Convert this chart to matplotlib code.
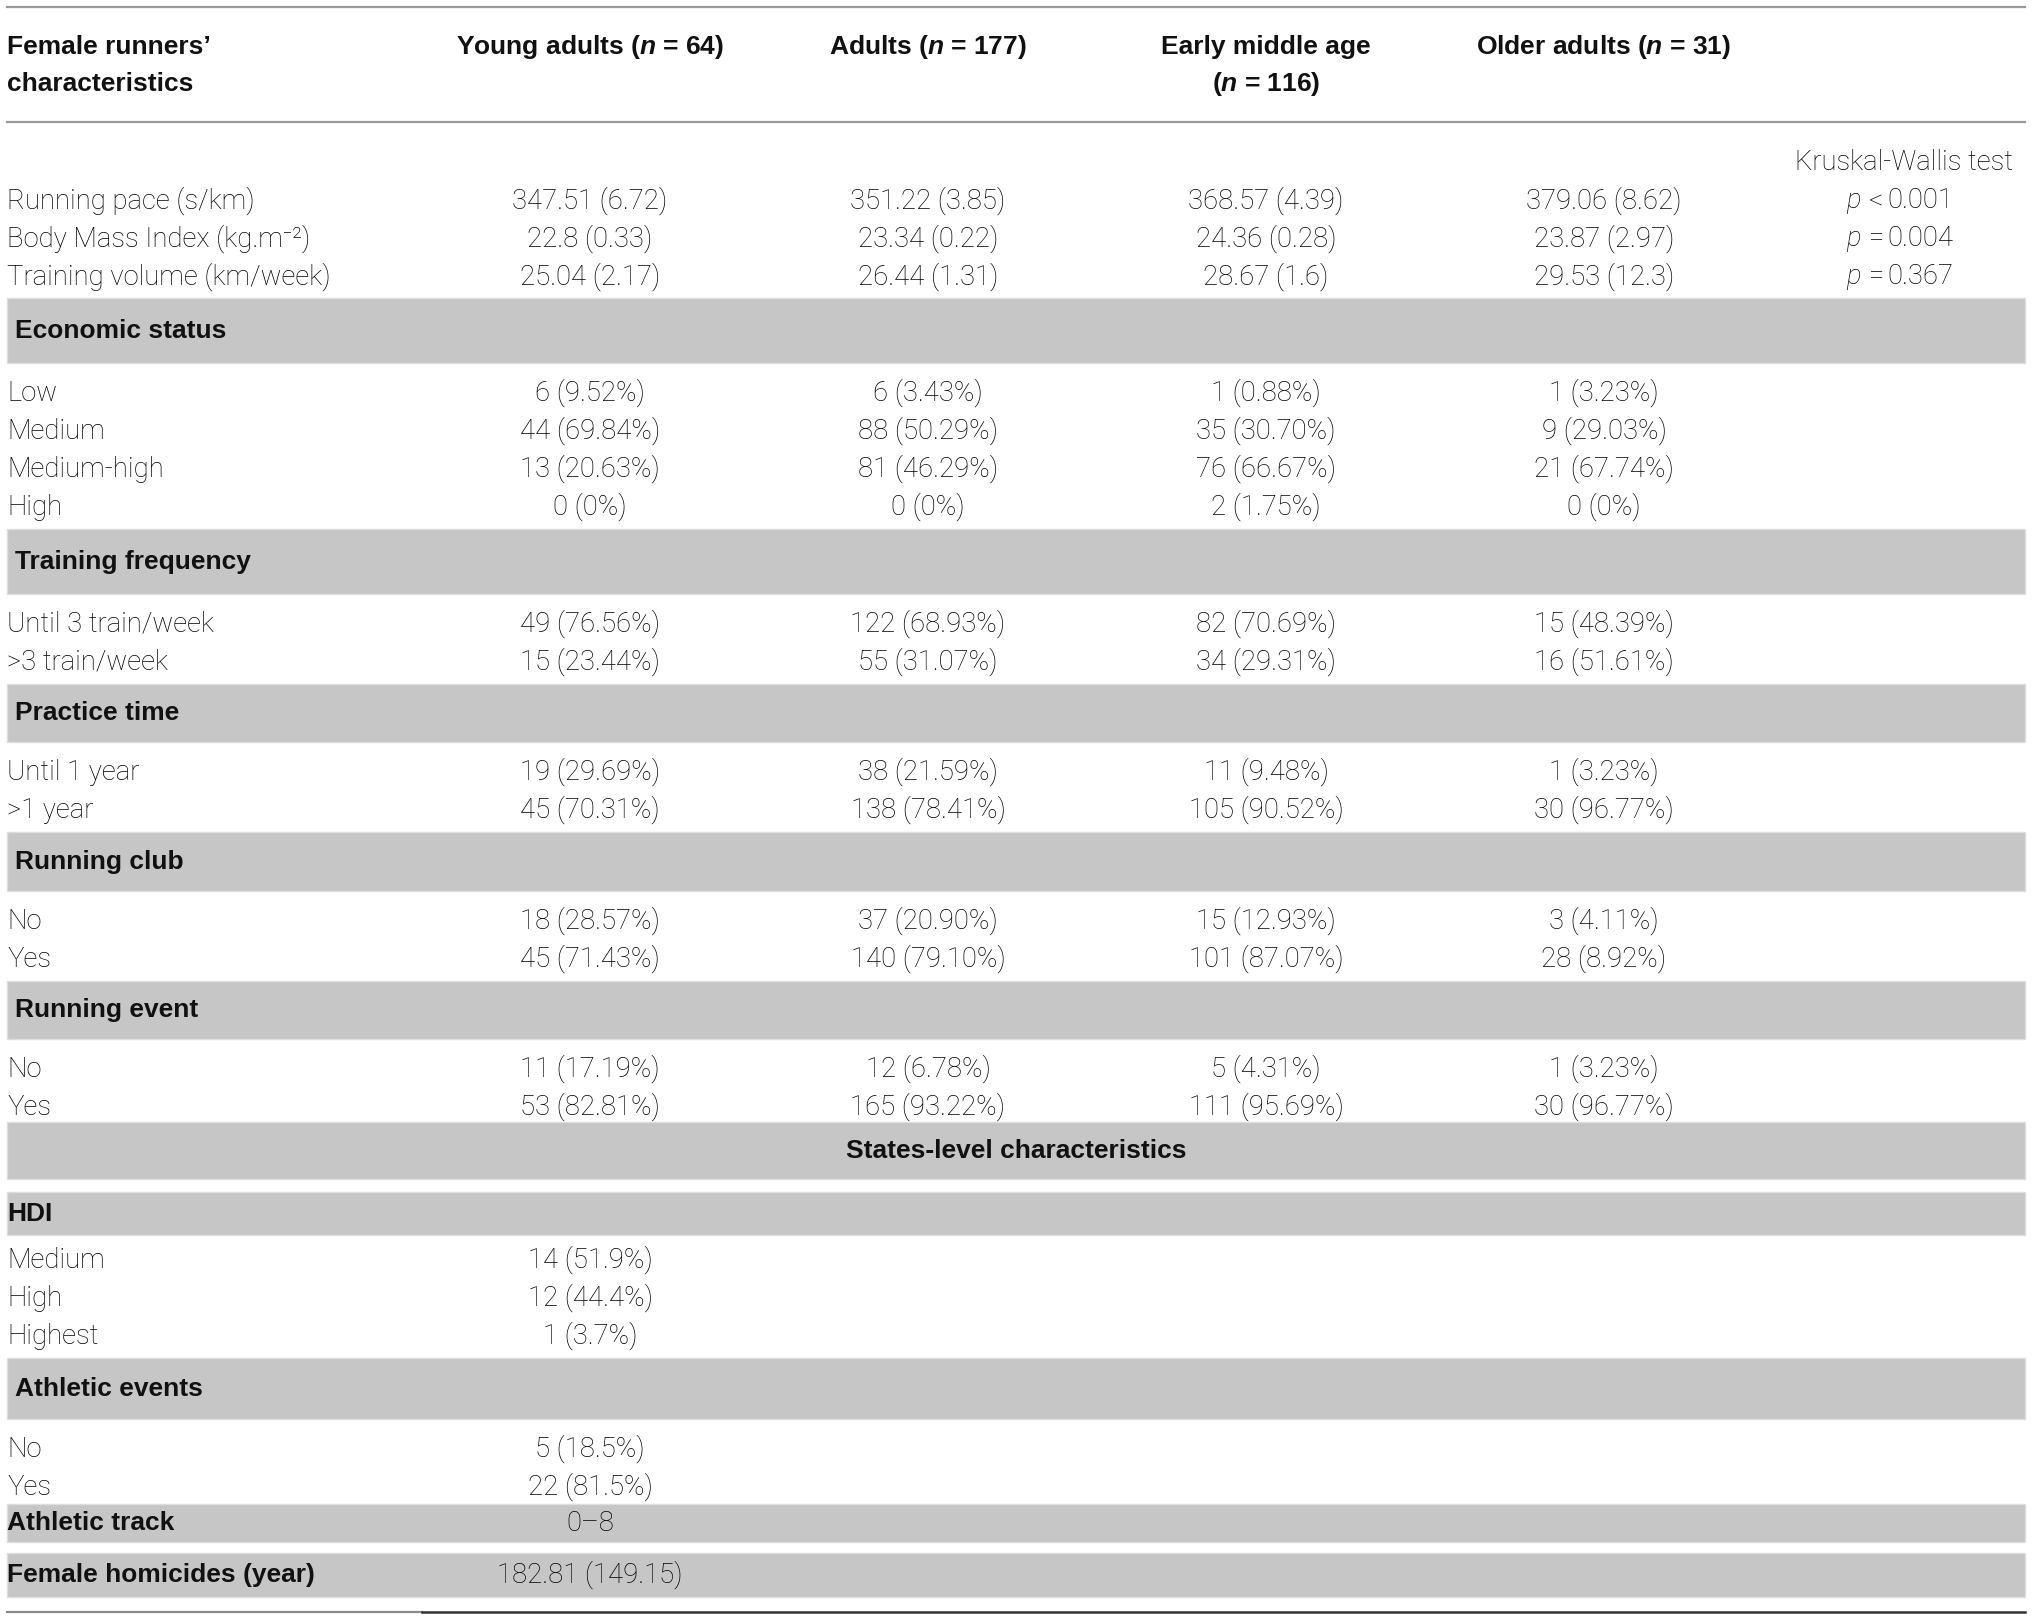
import matplotlib
matplotlib.use("Agg")
import matplotlib.pyplot as plt

plt.rcParams['font.family'] = ['Roboto', 'DejaVu Sans']
plt.rcParams['mathtext.fontset'] = 'custom'
plt.rcParams['mathtext.it'] = 'Liberation Sans:bold:italic'
plt.rcParams['mathtext.rm'] = 'Liberation Sans:bold'

# ---- data ----
group_names = ["Young adults", "Adults", "Early middle age", "Older adults"]
group_n = [64, 177, 116, 31]

cont_labels = ["Running pace (s/km)", "Body Mass Index (kg.m\u207b\u00b2)", "Training volume (km/week)"]
cont_young = ["347.51 (6.72)", "22.8 (0.33)", "25.04 (2.17)"]
cont_adults = ["351.22 (3.85)", "23.34 (0.22)", "26.44 (1.31)"]
cont_early = ["368.57 (4.39)", "24.36 (0.28)", "28.67 (1.6)"]
cont_older = ["379.06 (8.62)", "23.87 (2.97)", "29.53 (12.3)"]
kw_ops = ["<", "=", "="]
kw_vals = ["0.001", "0.004", "0.367"]

econ_labels = ["Low", "Medium", "Medium-high", "High"]
econ_young = ["6 (9.52%)", "44 (69.84%)", "13 (20.63%)", "0 (0%)"]
econ_adults = ["6 (3.43%)", "88 (50.29%)", "81 (46.29%)", "0 (0%)"]
econ_early = ["1 (0.88%)", "35 (30.70%)", "76 (66.67%)", "2 (1.75%)"]
econ_older = ["1 (3.23%)", "9 (29.03%)", "21 (67.74%)", "0 (0%)"]

freq_labels = ["Until 3 train/week", ">3 train/week"]
freq_young = ["49 (76.56%)", "15 (23.44%)"]
freq_adults = ["122 (68.93%)", "55 (31.07%)"]
freq_early = ["82 (70.69%)", "34 (29.31%)"]
freq_older = ["15 (48.39%)", "16 (51.61%)"]

time_labels = ["Until 1 year", ">1 year"]
time_young = ["19 (29.69%)", "45 (70.31%)"]
time_adults = ["38 (21.59%)", "138 (78.41%)"]
time_early = ["11 (9.48%)", "105 (90.52%)"]
time_older = ["1 (3.23%)", "30 (96.77%)"]

club_labels = ["No", "Yes"]
club_young = ["18 (28.57%)", "45 (71.43%)"]
club_adults = ["37 (20.90%)", "140 (79.10%)"]
club_early = ["15 (12.93%)", "101 (87.07%)"]
club_older = ["3 (4.11%)", "28 (8.92%)"]

event_labels = ["No", "Yes"]
event_young = ["11 (17.19%)", "53 (82.81%)"]
event_adults = ["12 (6.78%)", "165 (93.22%)"]
event_early = ["5 (4.31%)", "111 (95.69%)"]
event_older = ["1 (3.23%)", "30 (96.77%)"]

hdi_labels = ["Medium", "High", "Highest"]
hdi_values = ["14 (51.9%)", "12 (44.4%)", "1 (3.7%)"]
athletic_labels = ["No", "Yes"]
athletic_values = ["5 (18.5%)", "22 (81.5%)"]
track_value = "0\u20138"
homicide_value = "182.81 (149.15)"

runner_sections = [
    ("Economic status", econ_labels, [econ_young, econ_adults, econ_early, econ_older], 65),
    ("Training frequency", freq_labels, [freq_young, freq_adults, freq_early, freq_older], 65),
    ("Practice time", time_labels, [time_young, time_adults, time_early, time_older], 58),
    ("Running club", club_labels, [club_young, club_adults, club_early, club_older], 59),
    ("Running event", event_labels, [event_young, event_adults, event_early, event_older], 58),
]

# ---- layout ----
W, H = 2032, 1619
FS = 19.8
BAND = '#c5c6c5'
LX = 7
col_x = [590 + 338 * i for i in range(4)]
kw_x = 1904
pitch = 38

fig = plt.figure(figsize=(W / 100, H / 100), dpi=100)
ax = fig.add_axes([0, 0, 1, 1])
ax.set_xlim(0, W)
ax.set_ylim(H, 0)
ax.axis('off')

body = dict(fontsize=FS, weight='light', color='#000000', va='center')
bold = dict(fontsize=19, family=['Liberation Sans', 'DejaVu Sans'], weight='bold', color='#111111', va='center')
x0, x1 = 7 / W, 2025 / W


def band(top, bottom):
    ax.axhspan(top, bottom, xmin=x0, xmax=x1, facecolor=BAND, edgecolor='#dedede', lw=1)


# header
ax.plot([7, 2025], [7, 7], color='#9a9a9a', lw=1.6)
ax.plot([7, 2025], [122, 122], color='#9a9a9a', lw=1.6)
ax.text(LX, 47, "Female runners\u2019", ha='left', **bold)
ax.text(LX, 84, "characteristics", ha='left', **bold)
for i, (name, n) in enumerate(zip(group_names, group_n)):
    if name == "Early middle age":
        ax.text(col_x[i], 47, name, ha='center', **bold)
        ax.text(col_x[i], 84, "($n$ = %d)" % n, ha='center', **bold)
    else:
        ax.text(col_x[i], 47, "%s ($n$ = %d)" % (name, n), ha='center', **bold)

# continuous variables
ax.text(kw_x, 163, "Kruskal-Wallis test", ha='center', **body)
cont_cols = [cont_young, cont_adults, cont_early, cont_older]
for r, lab in enumerate(cont_labels):
    y = 201 + pitch * r
    ax.text(LX, y, lab, ha='left', **body)
    for c in range(4):
        ax.text(col_x[c], y, cont_cols[c][r], ha='center', **body)
    ax.text(1846, y, "p", ha='left', style='italic', **body)
    ax.text(1876, y, kw_ops[r], ha='center', **body)
    ax.text(1887, y, kw_vals[r], ha='left', **body)

# runner-level categorical sections
y = 298
for title, labels, cols, bh in runner_sections:
    band(y, y + bh)
    ax.text(15, y + bh / 2, title, ha='left', **bold)
    ry = y + bh + 30
    for r, lab in enumerate(labels):
        ax.text(LX, ry, lab, ha='left', **body)
        for c in range(4):
            ax.text(col_x[c], ry, cols[c][r], ha='center', **body)
        ry += pitch
    y = ry - pitch + 22

# states level
band(1122, 1179)
ax.text(1016, 1151, "States-level characteristics", ha='center', **bold)

band(1192, 1235)
ax.text(LX, 1214, "HDI", ha='left', **bold)
for r, (lab, val) in enumerate(zip(hdi_labels, hdi_values)):
    ax.text(LX, 1260 + pitch * r, lab, ha='left', **body)
    ax.text(col_x[0], 1260 + pitch * r, val, ha='center', **body)

band(1358, 1419)
ax.text(15, 1389, "Athletic events", ha='left', **bold)
for r, (lab, val) in enumerate(zip(athletic_labels, athletic_values)):
    ax.text(LX, 1449 + pitch * r, lab, ha='left', **body)
    ax.text(col_x[0], 1449 + pitch * r, val, ha='center', **body)

band(1504, 1542)
ax.text(LX, 1523, "Athletic track", ha='left', **bold)
ax.text(col_x[0], 1523, track_value, ha='center', **body)

band(1553, 1597)
ax.text(LX, 1575, "Female homicides (year)", ha='left', **bold)
ax.text(col_x[0], 1575, homicide_value, ha='center', **body)

# bottom rule
ax.plot([7, 422], [1612, 1612], color='#8a8a8a', lw=1.6)
ax.plot([422, 2025], [1612, 1612], color='#333333', lw=1.8)

fig.savefig("out.png", dpi=100)
